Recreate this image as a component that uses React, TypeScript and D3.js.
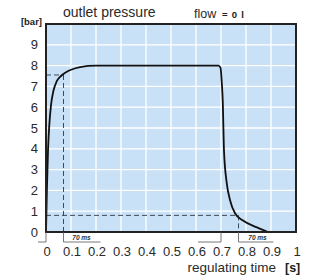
import * as d3 from 'd3'

// outlet pressure [bar] vs time [s]
const riseT = [0, 0.004, 0.008, 0.013, 0.02, 0.03, 0.043, 0.06, 0.08, 0.1, 0.136, 0.2, 0.3, 0.5, 0.69]
const riseP = [0, 2.2, 3.9, 5.1, 6.1, 6.8, 7.25, 7.5, 7.68, 7.8, 7.93, 8.0, 8.0, 8.0, 8.0]
const fallT = [0.698, 0.703, 0.707, 0.712, 0.723, 0.736, 0.756, 0.788, 0.844, 0.888]
const fallP = [7.9, 7.2, 6.3, 3.9, 2.35, 1.54, 0.9, 0.55, 0.22, 0]

const xTicks = [0, 0.1, 0.2, 0.3, 0.4, 0.5, 0.6, 0.7, 0.8, 0.9, 1]
const yTicks = [0, 1, 2, 3, 4, 5, 6, 7, 8, 9]
const riseMark = { t: 0.07, p: 7.55 }
const fallMark = { t: 0.77, p: 0.8 }

const W = 310
const H = 276
const m = { left: 46, right: 14, top: 24, bottom: 44 }
const font = '"Liberation Sans", Arial, sans-serif'

export default function App() {
  const x = d3.scaleLinear().domain([0, 1]).range([m.left, W - m.right])
  const y = d3.scaleLinear().domain([0, 10]).range([H - m.bottom, m.top])

  const pts: [number, number][] = [
    ...riseT.map((t, i) => [t, riseP[i]] as [number, number]),
    ...fallT.map((t, i) => [t, fallP[i]] as [number, number]),
  ]
  const line = d3.line<[number, number]>()
    .x((d) => x(d[0]))
    .y((d) => y(d[1]))
    .curve(d3.curveMonotoneX)

  const y0 = y(0)
  const brY = y0 + 10

  return (
    <svg width={W} height={H} style={{ position: 'absolute', left: 0, top: 0, background: '#fff' }} fontFamily={font}>
      <rect x={x(0)} y={y(10)} width={x(1) - x(0)} height={y(0) - y(10)} fill="#c9e1f6" />
      {d3.range(1, 10).map((i) => (
        <line key={'gx' + i} x1={x(i / 10)} x2={x(i / 10)} y1={y(10)} y2={y(0)} stroke="#fff" strokeWidth={1.3} />
      ))}
      {d3.range(1, 10).map((i) => (
        <line key={'gy' + i} x1={x(0)} x2={x(1)} y1={y(i)} y2={y(i)} stroke="#fff" strokeWidth={1.3} />
      ))}

      {/* dashed helper lines */}
      <g stroke="#3a4a5a" strokeWidth={1} strokeDasharray="5,3" fill="none">
        <line x1={x(0)} x2={x(riseMark.t)} y1={y(riseMark.p)} y2={y(riseMark.p)} />
        <line x1={x(riseMark.t)} x2={x(riseMark.t)} y1={y(riseMark.p)} y2={y(0)} />
        <line x1={x(0)} x2={x(fallMark.t)} y1={y(fallMark.p)} y2={y(fallMark.p)} />
        <line x1={x(fallMark.t)} x2={x(fallMark.t)} y1={y(fallMark.p)} y2={y(0)} />
      </g>

      <path d={line(pts) ?? ''} fill="none" stroke="#111" strokeWidth={1.8} />

      <rect x={x(0)} y={y(10)} width={x(1) - x(0)} height={y(0) - y(10)} fill="none" stroke="#222" strokeWidth={2} />

      {/* 70 ms brackets */}
      <g stroke="#555" strokeWidth={0.8} fill="none">
        <line x1={x(0)} x2={x(0)} y1={y0} y2={brY} />
        <line x1={x(riseMark.t)} x2={x(riseMark.t)} y1={y0} y2={brY} />
        <line x1={x(0) - 8} x2={x(0)} y1={brY} y2={brY} />
        <line x1={x(riseMark.t)} x2={x(riseMark.t) + 37} y1={brY} y2={brY} />
        <line x1={x(0.7)} x2={x(0.7)} y1={y0} y2={brY} />
        <line x1={x(fallMark.t)} x2={x(fallMark.t)} y1={y0} y2={brY} />
        <line x1={x(0.7) - 23} x2={x(0.7)} y1={brY} y2={brY} />
        <line x1={x(fallMark.t)} x2={x(fallMark.t) + 35} y1={brY} y2={brY} />
      </g>
      <g fontSize={6.5} fontWeight="bold" fontStyle="italic" fill="#333" textAnchor="middle">
        <text x={x(riseMark.t) + 18} y={y0 + 8}>70 ms</text>
        <text x={x(fallMark.t) + 19} y={y0 + 8}>70 ms</text>
      </g>

      <g fontSize={13} fill="#2a2a2a" textAnchor="end">
        {yTicks.map((v) => (
          <text key={'yt' + v} x={38} y={y(v) + 4.5}>{v}</text>
        ))}
      </g>
      <g fontSize={13} fill="#2a2a2a" textAnchor="middle">
        {xTicks.map((v) => (
          <text key={'xt' + v} x={x(v) + 1} y={256}>{v === 0 || v === 1 ? String(v) : d3.format('.1f')(v)}</text>
        ))}
      </g>

      <text x={42} y={25} fontSize={9.5} fontWeight="bold" fill="#222" textAnchor="end">[bar]</text>
      <text x={63} y={17} fontSize={14} fill="#2a2a2a">outlet pressure</text>
      <text x={194} y={18} fontSize={12.5} fill="#2a2a2a">flow</text>
      <text x={222} y={18} fontSize={9.5} fontWeight="bold" fill="#222" letterSpacing={0.8}>= 0 l</text>
      <text x={276} y={272} fontSize={13.5} fill="#2a2a2a" textAnchor="end">regulating time</text>
      <text x={285} y={272} fontSize={12.5} fontWeight="bold" fill="#222">[s]</text>
    </svg>
  )
}
